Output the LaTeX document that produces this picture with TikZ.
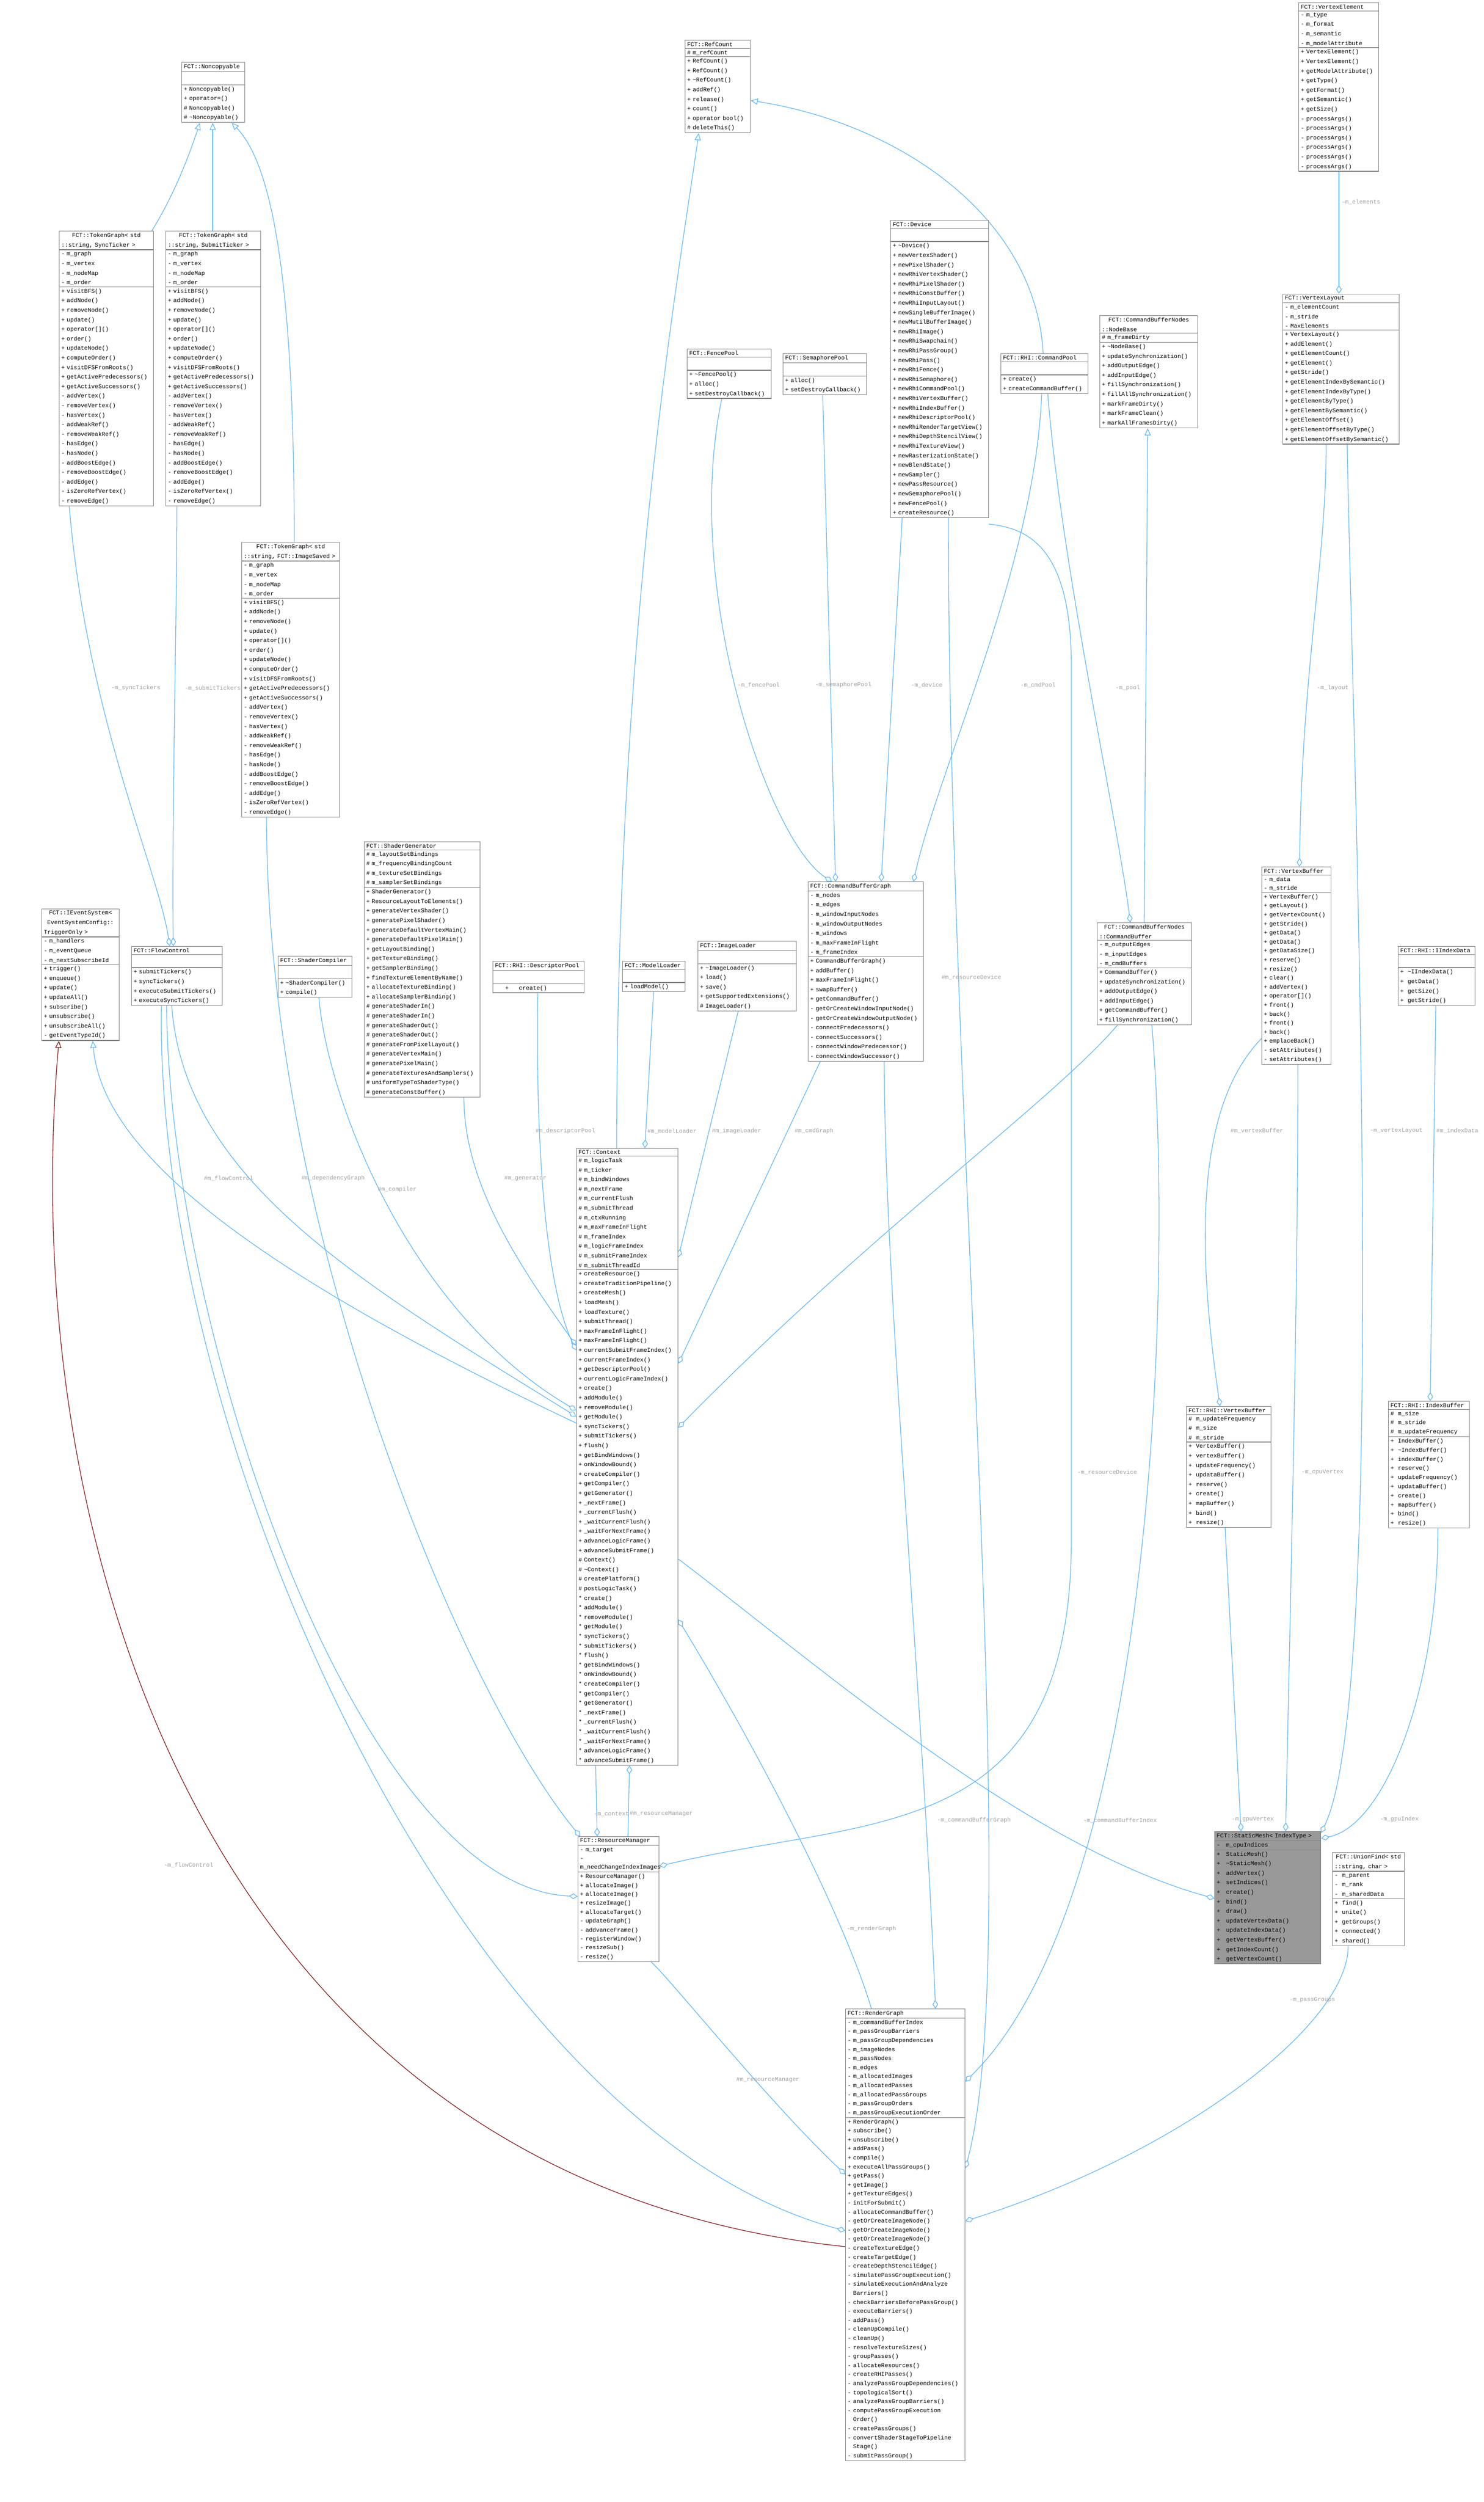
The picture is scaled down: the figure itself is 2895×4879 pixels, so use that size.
\documentclass[tikz,border=0pt]{standalone}
\usepackage{fontspec}
\setmonofont{Liberation Mono}
\usetikzlibrary{shapes.multipart,arrows.meta}
\definecolor{edgec}{HTML}{63B8FF}
\definecolor{boxc}{HTML}{808080}
\definecolor{lblc}{HTML}{A0A0A0}
\definecolor{redc}{HTML}{8B1A1A}
\definecolor{smfill}{HTML}{999999}
\pgfdeclarelayer{bg}
\pgfsetlayers{bg,main}
\catcode`\_=12
\newcommand\T{\textasciitilde}
\newcommand\tgattrs{- m_graph\\- m_vertex\\- m_nodeMap\\- m_order}
\newcommand\tgmeth{+ visitBFS()\\+ addNode()\\+ removeNode()\\+ update()\\+ operator[]()\\+ order()\\+ updateNode()\\+ computeOrder()\\+ visitDFSFromRoots()\\+ getActivePredecessors()\\+ getActiveSuccessors()\\- addVertex()\\- removeVertex()\\- hasVertex()\\- addWeakRef()\\- removeWeakRef()\\- hasEdge()\\- hasNode()\\- addBoostEdge()\\- removeBoostEdge()\\- addEdge()\\- isZeroRefVertex()\\- removeEdge()}
\tikzset{
  cls/.style={draw=boxc, line width=1.2pt, fill=white, rectangle split, rectangle split parts=3,
    anchor=north west, inner xsep=4pt, inner ysep=3pt, align=left,
    font=\ttfamily\fontsize{11.4}{18.6}\selectfont},
  lbl/.style={text=lblc, inner sep=1pt, font=\ttfamily\fontsize{11.4}{13}\selectfont},
  agg/.style={draw=edgec, line width=1.3pt, {Diamond[open,length=17pt,width=11pt]}-},
  inh/.style={draw=edgec, line width=1.3pt, -{Triangle[open,length=14pt,width=12pt]}},
  redinh/.style={draw=redc, line width=1.3pt, -{Triangle[open,length=14pt,width=12pt]}}
}
\begin{document}
\begin{tikzpicture}[x=1pt,y=-1pt]
\useasboundingbox (0,0) rectangle (2895,4879);

\node[cls,text width=115pt] (noncop) at (354,121) {\centering FCT::Noncopyable\nodepart{two}\strut\nodepart{three}+ Noncopyable()\\+ operator=()\\\# Noncopyable()\\\# \T Noncopyable()};
\node[cls,text width=176pt] (synctg) at (115,450) {\centering FCT::TokenGraph< std\\::string, SyncTicker >\nodepart{two}\tgattrs\nodepart{three}\tgmeth};
\node[cls,text width=177pt] (submittg) at (323,450) {\centering FCT::TokenGraph< std\\::string, SubmitTicker >\nodepart{two}\tgattrs\nodepart{three}\tgmeth};
\node[cls,text width=183pt] (imagetg) at (471,1057) {\centering FCT::TokenGraph< std\\::string, FCT::ImageSaved >\nodepart{two}\tgattrs\nodepart{three}\tgmeth};
\node[cls,text width=218pt] (shadergen) at (710,1641) {\centering FCT::ShaderGenerator\nodepart{two}\# m_layoutSetBindings\\\# m_frequencyBindingCount\\\# m_textureSetBindings\\\# m_samplerSetBindings\nodepart{three}+ ShaderGenerator()\\+ ResourceLayoutToElements()\\+ generateVertexShader()\\+ generatePixelShader()\\+ generateDefaultVertexMain()\\+ generateDefaultPixelMain()\\+ getLayoutBinding()\\+ getTextureBinding()\\+ getSamplerBinding()\\+ findTextureElementByName()\\+ allocateTextureBinding()\\+ allocateSamplerBinding()\\\# generateShaderIn()\\\# generateShaderIn()\\\# generateShaderOut()\\\# generateShaderOut()\\\# generateFromPixelLayout()\\\# generateVertexMain()\\\# generatePixelMain()\\\# generateTexturesAndSamplers()\\\# uniformTypeToShaderType()\\\# generateConstBuffer()};
\node[cls,text width=143pt] (ievent) at (81,1772) {\centering FCT::IEventSystem<\\EventSystemConfig::\\TriggerOnly >\nodepart{two}- m_handlers\\- m_eventQueue\\- m_nextSubscribeId\nodepart{three}+ trigger()\\+ enqueue()\\+ update()\\+ updateAll()\\+ subscribe()\\+ unsubscribe()\\+ unsubscribeAll()\\- getEventTypeId()};
\node[cls,text width=169pt] (flow) at (256,1845) {\centering FCT::FlowControl\nodepart{two}\strut\nodepart{three}+ submitTickers()\\+ syncTickers()\\+ executeSubmitTickers()\\+ executeSyncTickers()};
\node[cls,text width=136pt] (shadercomp) at (542,1864) {\centering FCT::ShaderCompiler\nodepart{two}\strut\nodepart{three}+ \T ShaderCompiler()\\+ compile()};
\node[cls,text width=170pt] (descpool) at (961,1874) {\centering FCT::RHI::DescriptorPool\nodepart{two}\strut\nodepart{three}\hspace*{20pt}+\hspace*{20pt}create()};
\node[cls,text width=114pt] (modelloader) at (1214,1874) {\centering FCT::ModelLoader\nodepart{two}\strut\nodepart{three}+ loadModel()};
\node[cls,text width=184pt] (imageloader) at (1361,1835) {\centering FCT::ImageLoader\nodepart{two}\strut\nodepart{three}+ \T ImageLoader()\\+ load()\\+ save()\\+ getSupportedExtensions()\\\# ImageLoader()};
\node[cls,text width=217pt] (cbg) at (1576,1719) {\centering FCT::CommandBufferGraph\nodepart{two}- m_nodes\\- m_edges\\- m_windowInputNodes\\- m_windowOutputNodes\\- m_windows\\- m_maxFrameInFlight\\- m_frameIndex\nodepart{three}+ CommandBufferGraph()\\+ addBuffer()\\+ maxFrameInFlight()\\+ swapBuffer()\\+ getCommandBuffer()\\- getOrCreateWindowInputNode()\\- getOrCreateWindowOutputNode()\\- connectPredecessors()\\- connectSuccessors()\\- connectWindowPredecessor()\\- connectWindowSuccessor()};
\node[cls,text width=119pt] (refcount) at (1336,78) {\centering FCT::RefCount\nodepart{two}\# m_refCount\nodepart{three}+ RefCount()\\+ RefCount()\\+ \T RefCount()\\+ addRef()\\+ release()\\+ count()\\+ operator bool()\\\# deleteThis()};
\node[cls,text width=156pt] (fencepool) at (1340,680) {\centering FCT::FencePool\nodepart{two}\strut\nodepart{three}+ \T FencePool()\\+ alloc()\\+ setDestroyCallback()};
\node[cls,text width=155pt] (sempool) at (1527,689) {\centering FCT::SemaphorePool\nodepart{two}\strut\nodepart{three}+ alloc()\\+ setDestroyCallback()};
\node[cls,text width=183pt] (device) at (1737,429) {\centering FCT::Device\nodepart{two}\strut\nodepart{three}+ \T Device()\\+ newVertexShader()\\+ newPixelShader()\\+ newRhiVertexShader()\\+ newRhiPixelShader()\\+ newRhiConstBuffer()\\+ newRhiInputLayout()\\+ newSingleBufferImage()\\+ newMutilBufferImage()\\+ newRhiImage()\\+ newRhiSwapchain()\\+ newRhiPassGroup()\\+ newRhiPass()\\+ newRhiFence()\\+ newRhiSemaphore()\\+ newRhiCommandPool()\\+ newRhiVertexBuffer()\\+ newRhiIndexBuffer()\\+ newRhiDescriptorPool()\\+ newRhiRenderTargetView()\\+ newRhiDepthStencilView()\\+ newRhiTextureView()\\+ newRasterizationState()\\+ newBlendState()\\+ newSampler()\\+ newPassResource()\\+ newSemaphorePool()\\+ newFencePool()\\+ createResource()};
\node[cls,text width=162pt] (cmdpool) at (1952,689) {\centering FCT::RHI::CommandPool\nodepart{two}\strut\nodepart{three}+ create()\\+ createCommandBuffer()};
\node[cls,text width=183pt] (nodebase) at (2145,615) {\centering FCT::CommandBufferNodes\\::NodeBase\nodepart{two}\# m_frameDirty\nodepart{three}+ \T NodeBase()\\+ updateSynchronization()\\+ addOutputEdge()\\+ addInputEdge()\\+ fillSynchronization()\\+ fillAllSynchronization()\\+ markFrameDirty()\\+ markFrameClean()\\+ markAllFramesDirty()};
\node[cls,text width=148pt] (ve) at (2533,5) {\centering FCT::VertexElement\nodepart{two}- m_type\\- m_format\\- m_semantic\\- m_modelAttribute\nodepart{three}+ VertexElement()\\+ VertexElement()\\+ getModelAttribute()\\+ getType()\\+ getFormat()\\+ getSemantic()\\+ getSize()\\- processArgs()\\- processArgs()\\- processArgs()\\- processArgs()\\- processArgs()\\- processArgs()};
\node[cls,text width=219pt] (vl) at (2502,573) {\centering FCT::VertexLayout\nodepart{two}- m_elementCount\\- m_stride\\- MaxElements\nodepart{three}+ VertexLayout()\\+ addElement()\\+ getElementCount()\\+ getElement()\\+ getStride()\\+ getElementIndexBySemantic()\\+ getElementIndexByType()\\+ getElementByType()\\+ getElementBySemantic()\\+ getElementOffset()\\+ getElementOffsetByType()\\+ getElementOffsetBySemantic()};
\node[cls,text width=176pt] (cmdbuf) at (2140,1799) {\centering FCT::CommandBufferNodes\\::CommandBuffer\nodepart{two}- m_outputEdges\\- m_inputEdges\\- m_cmdBuffers\nodepart{three}+ CommandBuffer()\\+ updateSynchronization()\\+ addOutputEdge()\\+ addInputEdge()\\+ getCommandBuffer()\\+ fillSynchronization()};
\node[cls,text width=127pt,font=\ttfamily\fontsize{11.4}{17.6}\selectfont] (vb) at (2461,1690) {\centering FCT::VertexBuffer\nodepart{two}- m_data\\- m_stride\nodepart{three}+ VertexBuffer()\\+ getLayout()\\+ getVertexCount()\\+ getStride()\\+ getData()\\+ getData()\\+ getDataSize()\\+ reserve()\\+ resize()\\+ clear()\\+ addVertex()\\+ operator[]()\\+ front()\\+ back()\\+ front()\\+ back()\\+ emplaceBack()\\- setAttributes()\\- setAttributes()};
\node[cls,text width=142pt] (iindex) at (2727,1845) {\centering FCT::RHI::IIndexData\nodepart{two}\strut\nodepart{three}+\ \ \T IIndexData()\\+\ \ getData()\\+\ \ getSize()\\+\ \ getStride()};
\node[cls,text width=157pt] (rvb) at (2314,2742) {\centering FCT::RHI::VertexBuffer\nodepart{two}\#\ \ m_updateFrequency\\\#\ \ m_size\\\#\ \ m_stride\nodepart{three}+\ \ VertexBuffer()\\+\ \ vertexBuffer()\\+\ \ updateFrequency()\\+\ \ updataBuffer()\\+\ \ reserve()\\+\ \ create()\\+\ \ mapBuffer()\\+\ \ bind()\\+\ \ resize()};
\node[cls,text width=150pt,font=\ttfamily\fontsize{11.4}{17.8}\selectfont] (rib) at (2708,2732) {\centering FCT::RHI::IndexBuffer\nodepart{two}\#\ \ m_size\\\#\ \ m_stride\\\#\ \ m_updateFrequency\nodepart{three}+\ \ IndexBuffer()\\+\ \ \T IndexBuffer()\\+\ \ indexBuffer()\\+\ \ reserve()\\+\ \ updateFrequency()\\+\ \ updataBuffer()\\+\ \ create()\\+\ \ mapBuffer()\\+\ \ bind()\\+\ \ resize()};
\node[cls,text width=190pt] (context) at (1124,2239) {\centering FCT::Context\nodepart{two}\# m_logicTask\\\# m_ticker\\\# m_bindWindows\\\# m_nextFrame\\\# m_currentFlush\\\# m_submitThread\\\# m_ctxRunning\\\# m_maxFrameInFlight\\\# m_frameIndex\\\# m_logicFrameIndex\\\# m_submitFrameIndex\\\# m_submitThreadId\nodepart{three}+ createResource()\\+ createTraditionPipeline()\\+ createMesh()\\+ loadMesh()\\+ loadTexture()\\+ submitThread()\\+ maxFrameInFlight()\\+ maxFrameInFlight()\\+ currentSubmitFrameIndex()\\+ currentFrameIndex()\\+ getDescriptorPool()\\+ currentLogicFrameIndex()\\+ create()\\+ addModule()\\+ removeModule()\\+ getModule()\\+ syncTickers()\\+ submitTickers()\\+ flush()\\+ getBindWindows()\\+ onWindowBound()\\+ createCompiler()\\+ getCompiler()\\+ getGenerator()\\+ _nextFrame()\\+ _currentFlush()\\+ _waitCurrentFlush()\\+ _waitForNextFrame()\\+ advanceLogicFrame()\\+ advanceSubmitFrame()\\\# Context()\\\# \T Context()\\\# createPlatform()\\\# postLogicTask()\\{}* create()\\{}* addModule()\\{}* removeModule()\\{}* getModule()\\{}* syncTickers()\\{}* submitTickers()\\{}* flush()\\{}* getBindWindows()\\{}* onWindowBound()\\{}* createCompiler()\\{}* getCompiler()\\{}* getGenerator()\\{}* _nextFrame()\\{}* _currentFlush()\\{}* _waitCurrentFlush()\\{}* _waitForNextFrame()\\{}* advanceLogicFrame()\\{}* advanceSubmitFrame()};
\node[cls,text width=150pt,font=\ttfamily\fontsize{11.4}{17.4}\selectfont] (rm) at (1127,3581) {\centering FCT::ResourceManager\nodepart{two}- m_target\\- m_needChangeIndexImages\nodepart{three}+ ResourceManager()\\+ allocateImage()\\+ allocateImage()\\+ resizeImage()\\+ allocateTarget()\\- updateGraph()\\- addvanceFrame()\\- registerWindow()\\- resizeSub()\\- resize()};
\node[cls,text width=199pt,fill=smfill] (sm) at (2369,3571) {\centering FCT::StaticMesh< IndexType >\nodepart{two}-\ \ \ m_cpuIndices\nodepart{three}+\ \ \ StaticMesh()\\+\ \ \ \T StaticMesh()\\+\ \ \ addVertex()\\+\ \ \ setIndices()\\+\ \ \ create()\\+\ \ \ bind()\\+\ \ \ draw()\\+\ \ \ updateVertexData()\\+\ \ \ updateIndexData()\\+\ \ \ getVertexBuffer()\\+\ \ \ getIndexCount()\\+\ \ \ getVertexCount()};
\node[cls,text width=132pt] (uf) at (2599,3612) {\centering FCT::UnionFind< std\\::string, char >\nodepart{two}-\ \ m_parent\\-\ \ m_rank\\-\ \ m_sharedData\nodepart{three}+\ \ find()\\+\ \ unite()\\+\ \ getGroups()\\+\ \ connected()\\+\ \ shared()};
\node[cls,text width=225pt,font=\ttfamily\fontsize{11.4}{17.6}\selectfont] (rg) at (1649,3917) {\centering FCT::RenderGraph\nodepart{two}- m_commandBufferIndex\\- m_passGroupBarriers\\- m_passGroupDependencies\\- m_imageNodes\\- m_passNodes\\- m_edges\\- m_allocatedImages\\- m_allocatedPasses\\- m_allocatedPassGroups\\- m_passGroupOrders\\- m_passGroupExecutionOrder\nodepart{three}+ RenderGraph()\\+ subscribe()\\+ unsubscribe()\\+ addPass()\\+ compile()\\+ executeAllPassGroups()\\+ getPass()\\+ getImage()\\+ getTextureEdges()\\- initForSubmit()\\- allocateCommandBuffer()\\- getOrCreateImageNode()\\- getOrCreateImageNode()\\- getOrCreateImageNode()\\- createTextureEdge()\\- createTargetEdge()\\- createDepthStencilEdge()\\- simulatePassGroupExecution()\\- simulateExecutionAndAnalyze\\\phantom{- }Barriers()\\- checkBarriersBeforePassGroup()\\- executeBarriers()\\- addPass()\\- cleanUpCompile()\\- cleanUp()\\- resolveTextureSizes()\\- groupPasses()\\- allocateResources()\\- createRHIPasses()\\- analyzePassGroupDependencies()\\- topologicalSort()\\- analyzePassGroupBarriers()\\- computePassGroupExecution\\\phantom{- }Order()\\- createPassGroups()\\- convertShaderStageToPipeline\\\phantom{- }Stage()\\- submitPassGroup()};

\begin{pgfonlayer}{bg}
\fill[white] (0,0) rectangle (2895,4879);
\draw[inh] ([xshift=-4pt]synctg.north east) .. controls (340,380) and (370,300) .. ([xshift=36pt]noncop.south west);
\draw[inh] ([xshift=92pt]submittg.north west) -- ([xshift=61pt]noncop.south west);
\draw[inh] ([xshift=103pt]imagetg.north west) .. controls (574,600) and (540,330) .. ([xshift=98pt]noncop.south west);
\draw[inh] ([xshift=79pt]context.north west) .. controls (1203,1200) and (1330,500) .. ([xshift=27pt]refcount.south west);
\draw[inh] ([xshift=83pt]cmdpool.north west) .. controls (2020,420) and (1750,240) .. ([yshift=-118pt]refcount.north east);
\draw[inh] ([xshift=92pt]cmdbuf.north west) -- ([xshift=94pt]nodebase.south west);
\draw[inh] ([yshift=-536pt]context.north west) .. controls (500,2480) and (200,2250) .. ([xshift=100pt]ievent.south west);
\draw[redinh] ([yshift=-464pt]rg.north west) .. controls (400,4250) and (30,3000) .. ([xshift=34pt]ievent.south west);
\draw[agg] ([xshift=75pt]flow.north west) .. controls (310,1700) and (170,1400) .. ([xshift=20pt]synctg.south west);
\draw[agg] ([xshift=82pt]flow.north west) .. controls (335,1600) and (345,1200) .. ([xshift=22pt]submittg.south west);
\draw[agg] ([yshift=-523pt]context.north west) .. controls (700,2500) and (360,2300) .. ([xshift=79pt]flow.south west);
\draw[agg] ([yshift=-511pt]context.north west) .. controls (800,2560) and (640,2150) .. ([xshift=80pt]shadercomp.south west);
\draw[agg] ([yshift=-385pt]context.north west) .. controls (1000,2450) and (905,2300) .. ([xshift=195pt]shadergen.south west);
\draw[agg] ([yshift=-394pt]context.north west) .. controls (1060,2500) and (1045,2200) .. ([xshift=88pt]descpool.south west);
\draw[agg] ([xshift=134pt]context.north west) -- ([xshift=61pt]modelloader.south west);
\draw[agg] ([yshift=-213pt]context.north east) -- ([xshift=79pt]imageloader.south west);
\draw[agg] ([yshift=-420pt]context.north east) -- ([xshift=24pt]cbg.south west);
\draw[agg] ([yshift=-545pt]context.north east) .. controls (1700,2400) and (2050,2150) .. ([xshift=40pt]cmdbuf.south west);
\draw[agg] ([yshift=-919pt]context.north east) .. controls (1500,3450) and (1650,3750) .. ([xshift=51pt]rg.north west);
\draw[agg] ([yshift=-131pt]sm.north west) .. controls (2000,3600) and (1600,3250) .. ([yshift=-801pt]context.north east);
\draw[agg] ([xshift=104pt]context.south west) -- ([xshift=98pt]rm.north west);
\draw[agg] ([xshift=38pt]rm.north west) -- ([xshift=38pt]context.south west);
\draw[agg] ([xshift=5pt]rm.north west) .. controls (900,3300) and (520,2400) .. ([xshift=49pt]imagetg.south west);
\draw[agg] ([yshift=-117pt]rm.north west) .. controls (700,3680) and (330,2600) .. ([xshift=69pt]flow.south west);
\draw[agg] ([yshift=-433pt]rg.north west) .. controls (900,4150) and (300,2800) .. ([xshift=59pt]flow.south west);
\draw[agg] ([yshift=-323pt]rg.north west) .. controls (1500,4100) and (1300,3850) .. ([xshift=143pt]rm.south west);
\draw[agg] ([xshift=176pt]rg.north west) .. controls (1800,3300) and (1725,2500) .. ([xshift=149pt]cbg.south west);
\draw[agg] ([yshift=-142pt]rg.north east) .. controls (2250,3700) and (2290,2500) .. ([xshift=107pt]cmdbuf.south west);
\draw[agg] ([yshift=-311pt]rg.north east) .. controls (2000,3800) and (1850,2200) .. ([xshift=113pt]device.south west);
\draw[agg] ([yshift=-58pt]rm.north east) .. controls (1700,3540) and (2090,3600) .. (2090,3000) -- (2090,1300) .. controls (2090,1060) and (2000,1030) .. ([yshift=-593pt]device.north east);
\draw[agg] ([yshift=-414pt]rg.north east) .. controls (2300,4200) and (2630,3950) .. ([xshift=31pt]uf.south west);
\draw[agg] ([xshift=47pt]cbg.north west) .. controls (1500,1640) and (1330,1150) .. ([xshift=68pt]fencepool.south west);
\draw[agg] ([xshift=54pt]cbg.north west) -- ([xshift=78pt]sempool.south west);
\draw[agg] ([xshift=143pt]cbg.north west) -- ([xshift=23pt]device.south west);
\draw[agg] ([xshift=206pt]cbg.north west) .. controls (1830,1500) and (2020,1100) .. ([xshift=80pt]cmdpool.south west);
\draw[agg] ([xshift=65pt]cmdbuf.north west) .. controls (2180,1600) and (2070,1100) .. ([xshift=92pt]cmdpool.south west);
\draw[agg] ([xshift=110pt]vl.north west) -- ([xshift=79pt]ve.south west);
\draw[agg] ([xshift=74pt]vb.north west) .. controls (2540,1300) and (2587,1100) .. ([xshift=85pt]vl.south west);
\draw[agg] ([xshift=66pt]rvb.north west) .. controls (2330,2400) and (2340,2150) .. ([yshift=-335pt]vb.north west);
\draw[agg] ([xshift=82pt]rib.north west) -- ([xshift=74pt]iindex.south west);
\draw[agg] ([xshift=52pt]sm.north west) -- ([xshift=76pt]rvb.south west);
\draw[agg] ([xshift=139pt]sm.north west) .. controls (2520,3000) and (2532,2500) .. ([xshift=71pt]vb.south west);
\draw[agg] ([yshift=-3pt]sm.north east) .. controls (2710,3300) and (2640,1500) .. ([xshift=126pt]vl.south west);
\draw[agg] ([yshift=-14pt]sm.north east) .. controls (2700,3560) and (2805,3300) .. ([xshift=97pt]rib.south west);
\end{pgfonlayer}

\node[lbl] (l1) at (265,1342) {-m_syncTickers};
\node[lbl] (l2) at (415,1342) {-m_submitTickers};
\node[lbl] (l3) at (446,2298) {\#m_flowControl};
\node[lbl] (l4) at (650,2298) {\#m_dependencyGraph};
\node[lbl] (l5) at (775,2320) {\#m_compiler};
\node[lbl] (l6) at (1025,2298) {\#m_generator};
\node[lbl] (l7) at (1103,2206) {\#m_descriptorPool};
\node[lbl] (l8) at (1311,2206) {\#m_modelLoader};
\node[lbl] (l9) at (1437,2206) {\#m_imageLoader};
\node[lbl] (l10) at (1588,2206) {\#m_cmdGraph};
\node[lbl] (l11) at (1895,1906) {\#m_resourceDevice};
\node[lbl] (l12) at (1480,1336) {-m_fencePool};
\node[lbl] (l13) at (1645,1336) {-m_semaphorePool};
\node[lbl] (l14) at (1808,1336) {-m_device};
\node[lbl] (l15) at (2025,1336) {-m_cmdPool};
\node[lbl] (l16) at (2200,1342) {-m_pool};
\node[lbl] (l17) at (2600,1342) {-m_layout};
\node[lbl] (l18) at (2655,394) {-m_elements};
\node[lbl] (l19) at (2452,2205) {\#m_vertexBuffer};
\node[lbl] (l20) at (2724,2205) {-m_vertexLayout};
\node[lbl] (l21) at (2843,2205) {\#m_indexData};
\node[lbl] (l22) at (2580,2871) {-m_cpuVertex};
\node[lbl] (l23) at (2160,2871) {-m_resourceDevice};
\node[lbl] (l24) at (1193,3537) {-m_context};
\node[lbl] (l25) at (1290,3537) {\#m_resourceManager};
\node[lbl] (l26) at (368,3637) {-m_flowControl};
\node[lbl] (l27) at (1498,4056) {\#m_resourceManager};
\node[lbl] (l28) at (1700,3762) {-m_renderGraph};
\node[lbl] (l29) at (1900,3550) {-m_commandBufferGraph};
\node[lbl] (l30) at (2185,3550) {-m_commandBufferIndex};
\node[lbl] (l31) at (2444,3548) {-m_gpuVertex};
\node[lbl] (l32) at (2730,3548) {-m_gpuIndex};
\node[lbl] (l33) at (2560,3900) {-m_passGroups};
\end{tikzpicture}
\end{document}
